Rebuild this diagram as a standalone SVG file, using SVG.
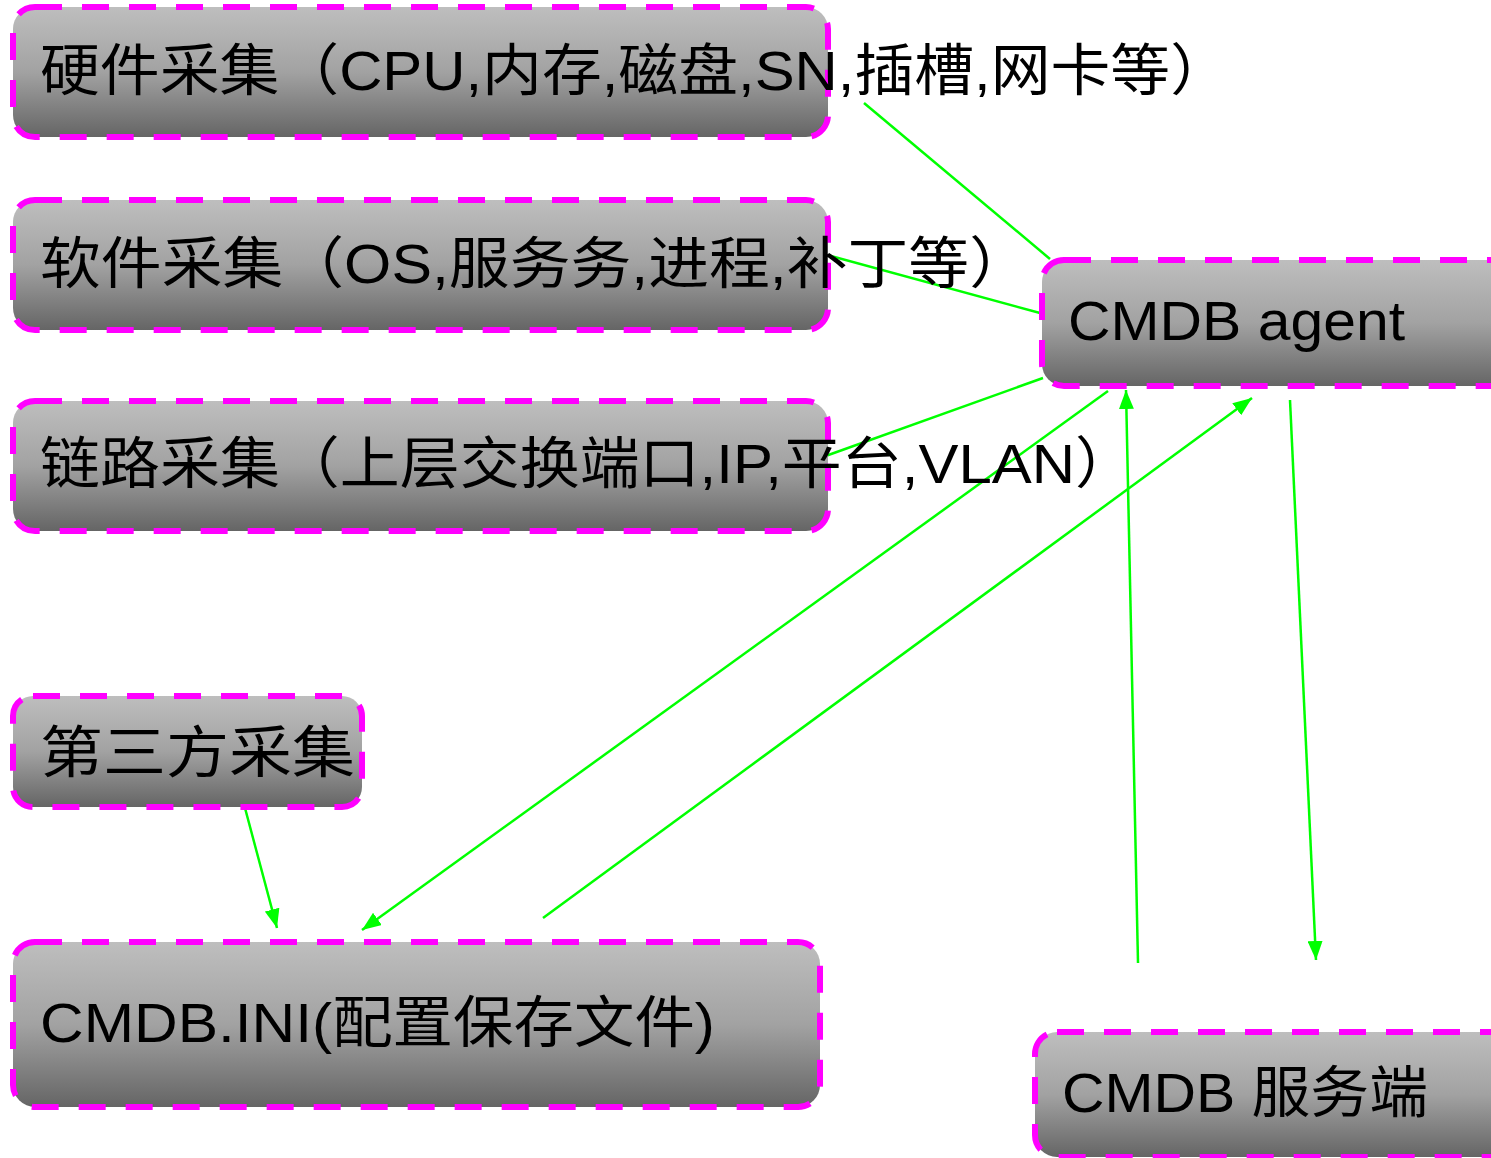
<svg xmlns="http://www.w3.org/2000/svg" width="1491" height="1158" viewBox="0 0 1491 1158">
<defs>
<linearGradient id="g" x1="0" y1="0" x2="0" y2="1">
<stop offset="0" stop-color="#bebebe"/>
<stop offset="0.5" stop-color="#a2a2a2"/>
<stop offset="1" stop-color="#656565"/>
</linearGradient>
<marker id="ah" viewBox="0 0 10 10" refX="10" refY="5" markerWidth="19" markerHeight="15" markerUnits="userSpaceOnUse" orient="auto" preserveAspectRatio="none">
<path d="M0,0 L10,5 L0,10 z" fill="#00ff00"/>
</marker>
</defs>
<style>
.box{fill:url(#g);stroke:#ff00ff;stroke-width:6;stroke-dasharray:27 20;}
.t{font-family:"Liberation Sans","Noto Sans CJK SC",sans-serif;font-size:56px;fill:#000;}
.c{stroke:#00ff00;stroke-width:2.5;fill:none;}
</style>
<rect width="1491" height="1158" fill="#fff"/>
<g id="connectors">
<line class="c" x1="864" y1="103" x2="1050" y2="259"/>
<line class="c" x1="820" y1="253" x2="1040" y2="313"/>
<line class="c" x1="820" y1="458" x2="1043" y2="378"/>
<line class="c" x1="1108" y1="391" x2="362" y2="930" marker-end="url(#ah)"/>
<line class="c" x1="543" y1="918" x2="1252" y2="398" marker-end="url(#ah)"/>
<line class="c" x1="1138" y1="963" x2="1126" y2="390" marker-end="url(#ah)"/>
<line class="c" x1="1290" y1="400" x2="1316" y2="960" marker-end="url(#ah)"/>
<line class="c" x1="245" y1="808" x2="277" y2="928" marker-end="url(#ah)"/>
</g>
<g id="hardware">
<rect class="box" x="13" y="7" width="815" height="130" rx="22"/>
<text class="t" x="40" y="90" textLength="1190" lengthAdjust="spacingAndGlyphs">硬件采集（CPU,内存,磁盘,SN,插槽,网卡等）</text>
</g>
<g id="software">
<rect class="box" x="13" y="200" width="815" height="130" rx="22"/>
<text class="t" x="40" y="283" textLength="990" lengthAdjust="spacingAndGlyphs">软件采集（OS,服务务,进程,补丁等）</text>
</g>
<g id="link">
<rect class="box" x="13" y="401" width="815" height="130" rx="22"/>
<text class="t" x="40" y="483" textLength="1095" lengthAdjust="spacingAndGlyphs">链路采集（上层交换端口,IP,平台,VLAN）</text>
</g>
<g id="thirdparty">
<rect class="box" x="13" y="696" width="349" height="111" rx="20"/>
<text class="t" x="40" y="772" textLength="315" lengthAdjust="spacingAndGlyphs">第三方采集</text>
</g>
<g id="ini">
<rect class="box" x="13" y="942" width="807" height="165" rx="22"/>
<text class="t" x="40" y="1042" textLength="675" lengthAdjust="spacingAndGlyphs">CMDB.INI(配置保存文件)</text>
</g>
<g id="agent">
<rect class="box" x="1042" y="260" width="470" height="126" rx="22"/>
<text class="t" x="1068" y="340" textLength="337" lengthAdjust="spacingAndGlyphs">CMDB  agent</text>
</g>
<g id="server">
<rect class="box" x="1035" y="1032" width="477" height="125" rx="22"/>
<text class="t" x="1062" y="1112" textLength="366" lengthAdjust="spacingAndGlyphs">CMDB 服务端</text>
</g>
</svg>
